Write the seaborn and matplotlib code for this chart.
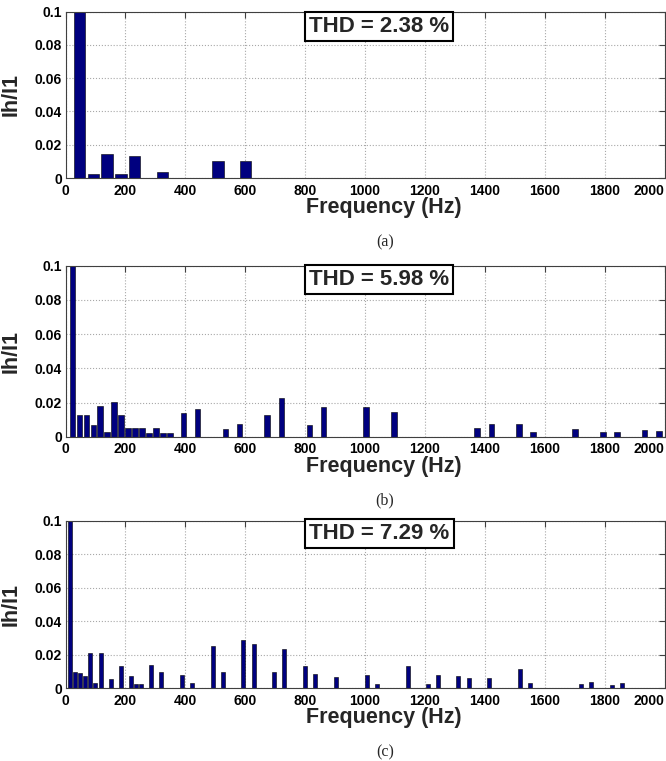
import numpy as np
import pandas as pd
import matplotlib
matplotlib.use('Agg')
import matplotlib.pyplot as plt
import seaborn as sns

# ===== data =====
freq_a = [46, 93, 139, 185, 231, 324, 509, 602]
mag_a = [1.0, 0.0024, 0.0144, 0.0024, 0.0134, 0.0036, 0.010, 0.010]

freq_b = [23, 47, 70, 93, 116, 139, 162, 186, 209, 232, 256, 279, 302, 326, 349,
          394, 441, 534, 581, 673, 721, 814, 861, 1003, 1096, 1374, 1422, 1514,
          1561, 1702, 1794, 1841, 1934, 1981]
mag_b = [1.0, 0.0124, 0.0127, 0.0067, 0.0182, 0.003, 0.0204, 0.0124, 0.0049,
         0.0049, 0.0053, 0.002, 0.0049, 0.002, 0.002, 0.0141, 0.016, 0.0043,
         0.0073, 0.0124, 0.0225, 0.0069, 0.0175, 0.0175, 0.0146, 0.0049, 0.0072,
         0.0072, 0.0025, 0.0047, 0.0025, 0.0025, 0.0041, 0.0035]

freq_c = [16, 32, 48, 64, 82, 100, 117, 151, 186, 218, 234, 251, 287, 320, 389,
          422, 492, 526, 594, 628, 697, 731, 799, 832, 903, 1008, 1041, 1143,
          1209, 1243, 1311, 1346, 1414, 1516, 1550, 1722, 1756, 1824, 1859]
mag_c = [1.0, 0.0098, 0.0088, 0.007, 0.021, 0.0032, 0.0208, 0.0052, 0.013,
         0.0074, 0.0022, 0.0022, 0.014, 0.0098, 0.0078, 0.0032, 0.025, 0.0094,
         0.0288, 0.0262, 0.0098, 0.0232, 0.013, 0.0082, 0.0064, 0.0078, 0.0026,
         0.0134, 0.0026, 0.0076, 0.0072, 0.0058, 0.006, 0.0112, 0.003, 0.0026,
         0.0034, 0.0018, 0.003]

thd_text = ['THD = 2.38 %', 'THD = 5.98 %', 'THD = 7.29 %']
captions = ['(a)', '(b)', '(c)']
xticks = [0, 200, 400, 600, 800, 1000, 1200, 1400, 1600, 1800, 2000]
yticks = [0, 0.02, 0.04, 0.06, 0.08, 0.1]
ytick_labels = ['0', '0.02', '0.04', '0.06', '0.08', '0.1']

sns.set_style('white')
plt.rcParams['font.family'] = ['Liberation Sans', 'DejaVu Sans']
plt.rcParams['font.weight'] = 'bold'

fig = plt.figure(figsize=(6.66, 7.61), dpi=100)

# axes boxes in pixels: (top, bottom)
W, H = 666, 761
left_px, right_px = 65.5, 664.5
panels = [(11.7, 178.0), (265.7, 436.7), (521.0, 688.0)]
box_y = [0.908, 0.922, 0.928]
widths = [0.82, 0.8, 0.85]
datas = [(freq_a, mag_a), (freq_b, mag_b), (freq_c, mag_c)]

for i, ((top, bot), (fr, mg)) in enumerate(zip(panels, datas)):
    ax = fig.add_axes([left_px / W, 1 - bot / H, (right_px - left_px) / W, (bot - top) / H])
    df = pd.DataFrame({'freq': fr, 'mag': mg})
    sns.barplot(data=df, x='freq', y='mag', native_scale=True, color='#00007f',
                saturation=1, width=widths[i], errorbar=None,
                edgecolor='black', linewidth=0.4, ax=ax)
    ax.set_xlim(0, 2000)
    ax.set_ylim(0, 0.1)
    ax.set_xticks(xticks)
    ax.set_xticklabels([str(t) for t in xticks])
    ax.set_yticks(yticks)
    ax.set_yticklabels(ytick_labels)
    ax.set_axisbelow(True)
    ax.grid(True, ls=':', color='#a8a8a8', lw=0.8)
    ax.tick_params(direction='in', length=4, width=0.8, top=True, right=True,
                   labelsize=10, colors='#404040', labelcolor='black')
    ax.tick_params(axis='x', pad=4)
    ax.tick_params(axis='y', pad=2.5)
    for s in ax.spines.values():
        s.set_color('#404040')
        s.set_linewidth(0.8)
    # last tick label pulled in like the original crop
    lbls = ax.get_xticklabels()
    lbls[-1].set_horizontalalignment('right')
    ax.set_xlabel('Frequency (Hz)', fontsize=15.5, fontweight='bold')
    ax.xaxis.set_label_coords(0.532, -0.115)
    ax.set_ylabel('Ih/I1', fontsize=15.5, fontweight='bold')
    ax.yaxis.set_label_coords(-0.073, 0.5)
    ax.text(0.524, box_y[i], thd_text[i], transform=ax.transAxes, ha='center',
            va='center', fontsize=16, fontweight='bold',
            bbox=dict(boxstyle='square,pad=0.18', fc='white', ec='black', lw=1.5))
    fig.text(385 / W, 1 - (bot + 64) / H, captions[i], ha='center', va='center',
             fontsize=11.5, fontweight='normal', family=['Liberation Serif', 'DejaVu Serif'])

fig.savefig('out.png', dpi=100)
